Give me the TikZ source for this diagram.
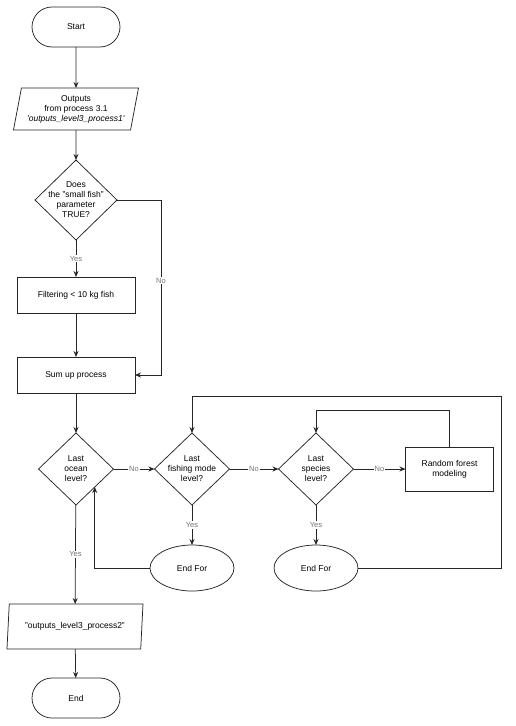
\documentclass[tikz,border=0pt]{standalone}
\usepackage{fontspec}
\setsansfont{Liberation Sans}
\usetikzlibrary{positioning,arrows.meta,shapes.geometric}

\begin{document}
\begin{tikzpicture}[font=\sffamily\fontsize{8.5}{10}\selectfont, line width=0.75pt,
		>={Stealth[length=6pt,width=5pt]}, every node/.append style={outer sep=0pt},
		term/.style={draw=black!85, rounded corners=20pt, minimum width=88pt, minimum height=40pt},
		io/.style={draw=black!85, trapezium, trapezium left angle=74, trapezium right angle=106, trapezium stretches body, minimum height=42pt, minimum width=125pt, align=center, inner sep=0pt},
		proc/.style={draw=black!85, minimum width=118pt, minimum height=36pt, align=center},
		decision/.style={draw=black!85, diamond, aspect=1, inner sep=-6pt, minimum width=75pt, minimum height=72pt, align=center},
		endloop/.style={draw=black!85, ellipse, minimum width=84pt, minimum height=46pt},
		conn/.style={->, draw=black!85},
		lbl/.style={fill=white, text=black!55, inner sep=1pt, font=\sffamily\fontsize{7.5}{9}\selectfont}]
		\useasboundingbox (0,0) rectangle (515pt,-726pt);
		% main column
		\node[term] (start) at (76pt,-27pt) {Start};
		\node[io, below=41pt of start] (outputsin) {Outputs\\from process 3.1\\\textit{\textquotesingle outputs\_level3\_process1\textquotesingle}};
		\node[decision, below=30pt of outputsin, minimum width=82pt, minimum height=80pt] (smallfish) {Does\\the "small fish"\\parameter\\TRUE?};
		\node[proc, below=37pt of smallfish] (filter) {Filtering < 10 kg fish};
		\node[proc, below=44pt of filter] (sumup) {Sum up process};
		\node[decision, below=40pt of sumup] (ocean) {Last\\ocean\\level?};
		\node[io, below=99pt of ocean, xshift=-1pt, minimum height=45pt, minimum width=136pt] (outputsout) {"outputs\_level3\_process2"};
		\node[term, below=29pt of outputsout, xshift=1pt] (finish) {End};
		% loops
		\node[decision, right=41pt of ocean] (fishing) {Last\\fishing mode\\level?};
		\node[decision, right=49pt of fishing] (species) {Last\\species\\level?};
		\node[proc, right=52pt of species, minimum width=88pt, minimum height=44pt] (forest) {Random forest\\modeling};
		\node[endloop, below=40pt of fishing] (endfishing) {End For};
		\node[endloop, below=40pt of species] (endspecies) {End For};
		\coordinate[right=44pt of smallfish.east] (nobend);
		\coordinate (outerloop) at (501pt,-396pt);

		\draw[conn] (start) -- (outputsin);
		\draw[conn] (outputsin) -- (smallfish);
		\draw[conn] (smallfish) -- node[lbl] {Yes} (filter);
		\draw[conn] (smallfish.east) -- (nobend) |- node[lbl, pos=0.23] {No} (sumup.east);
		\draw[conn] (filter) -- (sumup);
		\draw[conn] (sumup) -- (ocean);
		\draw[conn] (ocean) -- node[lbl] {No} (fishing);
		\draw[conn] (fishing) -- node[lbl] {No} (species);
		\draw[conn] (species) -- node[lbl] {No} (forest);
		\draw[conn] (fishing) -- node[lbl] {Yes} (endfishing);
		\draw[conn] (species) -- node[lbl] {Yes} (endspecies);
		\draw[conn] (forest.north) -- ++(0,37pt) -| (species.north);
		\draw[conn] (endfishing.west) -| (ocean.south east);
		\draw[conn] (endspecies.east) -| (outerloop) -| (fishing.north);
		\draw[conn] (ocean) -- node[lbl] {Yes} (outputsout);
		\draw[conn] (outputsout) -- (finish);
	\end{tikzpicture}
\end{document}
